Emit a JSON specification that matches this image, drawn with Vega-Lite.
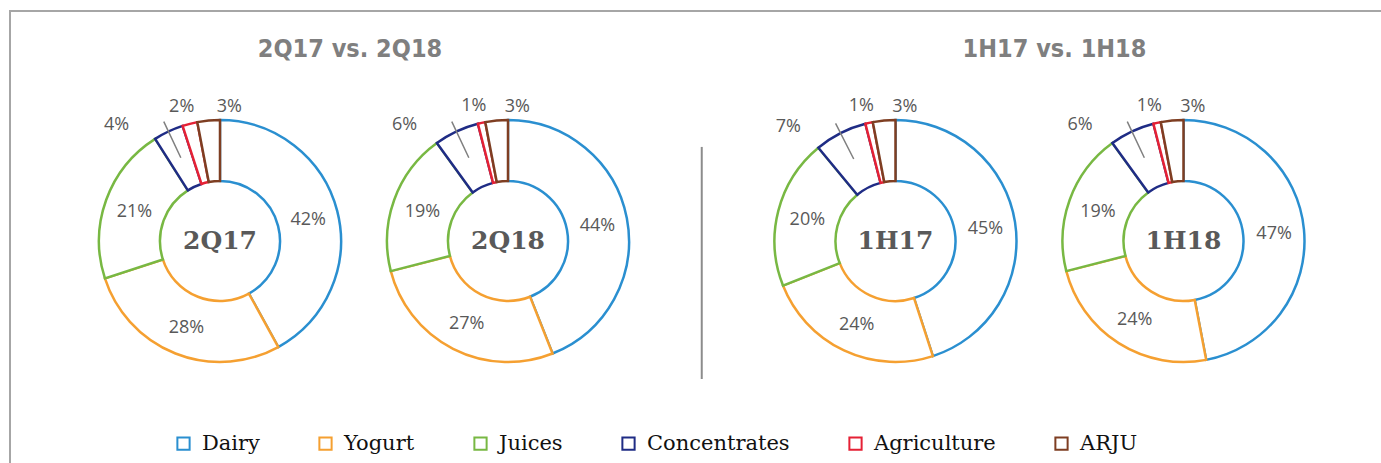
{
  "$schema": "https://vega.github.io/schema/vega-lite/v6.json",
  "width": 1400,
  "height": 460,
  "autosize": {"type": "none"},
  "padding": {"left": 10, "top": 11, "right": 0, "bottom": 0},
  "background": "white",
  "config": {"view": {"stroke": "#a6a6a6", "strokeWidth": 2}},
  "datasets": {
    "shares": [
      {"period": "2Q", "year": "17", "chart": "2Q17", "category": "Dairy", "share": 0.42},
      {"period": "2Q", "year": "17", "chart": "2Q17", "category": "Yogurt", "share": 0.28},
      {"period": "2Q", "year": "17", "chart": "2Q17", "category": "Juices", "share": 0.21},
      {"period": "2Q", "year": "17", "chart": "2Q17", "category": "Concentrates", "share": 0.04},
      {"period": "2Q", "year": "17", "chart": "2Q17", "category": "Agriculture", "share": 0.02},
      {"period": "2Q", "year": "17", "chart": "2Q17", "category": "ARJU", "share": 0.03},
      {"period": "2Q", "year": "18", "chart": "2Q18", "category": "Dairy", "share": 0.44},
      {"period": "2Q", "year": "18", "chart": "2Q18", "category": "Yogurt", "share": 0.27},
      {"period": "2Q", "year": "18", "chart": "2Q18", "category": "Juices", "share": 0.19},
      {"period": "2Q", "year": "18", "chart": "2Q18", "category": "Concentrates", "share": 0.06},
      {"period": "2Q", "year": "18", "chart": "2Q18", "category": "Agriculture", "share": 0.01},
      {"period": "2Q", "year": "18", "chart": "2Q18", "category": "ARJU", "share": 0.03},
      {"period": "1H", "year": "17", "chart": "1H17", "category": "Dairy", "share": 0.45},
      {"period": "1H", "year": "17", "chart": "1H17", "category": "Yogurt", "share": 0.24},
      {"period": "1H", "year": "17", "chart": "1H17", "category": "Juices", "share": 0.20},
      {"period": "1H", "year": "17", "chart": "1H17", "category": "Concentrates", "share": 0.07},
      {"period": "1H", "year": "17", "chart": "1H17", "category": "Agriculture", "share": 0.01},
      {"period": "1H", "year": "17", "chart": "1H17", "category": "ARJU", "share": 0.03},
      {"period": "1H", "year": "18", "chart": "1H18", "category": "Dairy", "share": 0.47},
      {"period": "1H", "year": "18", "chart": "1H18", "category": "Yogurt", "share": 0.24},
      {"period": "1H", "year": "18", "chart": "1H18", "category": "Juices", "share": 0.19},
      {"period": "1H", "year": "18", "chart": "1H18", "category": "Concentrates", "share": 0.06},
      {"period": "1H", "year": "18", "chart": "1H18", "category": "Agriculture", "share": 0.01},
      {"period": "1H", "year": "18", "chart": "1H18", "category": "ARJU", "share": 0.03}
    ],
    "charts": [
      {"period": "2Q", "year": "17", "chart": "2Q17"},
      {"period": "2Q", "year": "18", "chart": "2Q18"},
      {"period": "1H", "year": "17", "chart": "1H17"},
      {"period": "1H", "year": "18", "chart": "1H18"}
    ],
    "titles": [
      {"period": "2Q", "title": "2Q17 vs. 2Q18"},
      {"period": "1H", "title": "1H17 vs. 1H18"}
    ]
  },
  "layer": [
    {
      "data": {"name": "shares"},
      "transform": [
        {"stack": "share", "groupby": ["chart"], "offset": "normalize", "as": ["s0", "s1"]}
      ],
      "mark": {"type": "arc", "outerRadius": 121, "innerRadius": 60, "fill": "white", "strokeWidth": 2.5, "strokeJoin": "miter"},
      "encoding": {
        "x": {"field": "period", "type": "nominal", "axis": null,
              "scale": {"type": "band", "domain": ["2Q", "1H"], "paddingInner": 0, "paddingOuter": 0.03627, "align": 0.3316}},
        "xOffset": {"field": "year", "type": "nominal",
              "scale": {"type": "band", "domain": ["17", "18"], "paddingInner": 0, "paddingOuter": 0.17274, "align": 0.5}},
        "theta": {"field": "s0", "type": "quantitative", "scale": {"domain": [0, 1]}},
        "theta2": {"field": "s1"},
        "stroke": {"field": "category", "type": "nominal",
              "scale": {"domain": ["Dairy", "Yogurt", "Juices", "Concentrates", "Agriculture", "ARJU"],
                        "range": ["#2A8FD0", "#F5A031", "#78B843", "#1F2C85", "#E52135", "#7E3E22"]},
              "legend": {"orient": "none", "legendX": 163, "legendY": 422, "direction": "horizontal", "title": null,
                         "symbolType": "square", "symbolSize": 150, "symbolFillColor": "white", "symbolStrokeWidth": 2,
                         "labelFont": "DejaVu Serif", "labelFontSize": 21, "labelColor": "#111111", "labelOffset": 8,
                         "columnPadding": 55, "labelLimit": 300}}
      }
    },
    {
      "data": {"name": "shares"},
      "transform": [
        {"stack": "share", "groupby": ["chart"], "offset": "normalize", "as": ["s0", "s1"]},
        {"calculate": "(datum.s0 + datum.s1) / 2", "as": "mid"},
        {"filter": "datum.category == 'Concentrates'"}
      ],
      "mark": {"type": "arc", "outerRadius": 132, "innerRadius": 92, "fill": null, "stroke": "#808080", "strokeWidth": 1.5},
      "encoding": {
        "x": {"field": "period", "type": "nominal"},
        "xOffset": {"field": "year", "type": "nominal"},
        "theta": {"field": "mid", "type": "quantitative"},
        "theta2": {"field": "mid"}
      }
    },
    {
      "data": {"name": "shares"},
      "transform": [
        {"stack": "share", "groupby": ["chart"], "offset": "normalize", "as": ["s0", "s1"]},
        {"calculate": "(datum.s0 + datum.s1) / 2", "as": "mid"},
        {"filter": "datum.share >= 0.1"}
      ],
      "mark": {"type": "text", "radius": 91, "dy": 2, "font": "Open Sans", "fontSize": 18, "color": "#595959"},
      "encoding": {
        "x": {"field": "period", "type": "nominal"},
        "xOffset": {"field": "year", "type": "nominal"},
        "theta": {"field": "mid", "type": "quantitative"},
        "text": {"field": "share", "type": "quantitative", "format": ".0%"}
      }
    },
    {
      "data": {"name": "shares"},
      "transform": [
        {"stack": "share", "groupby": ["chart"], "offset": "normalize", "as": ["s0", "s1"]},
        {"calculate": "(datum.s0 + datum.s1) / 2", "as": "mid"},
        {"filter": "datum.category == 'Concentrates'"}
      ],
      "mark": {"type": "text", "radius": 135, "dx": -46, "dy": 6, "font": "Open Sans", "fontSize": 18, "color": "#595959"},
      "encoding": {
        "x": {"field": "period", "type": "nominal"},
        "xOffset": {"field": "year", "type": "nominal"},
        "theta": {"field": "mid", "type": "quantitative"},
        "text": {"field": "share", "type": "quantitative", "format": ".0%"}
      }
    },
    {
      "data": {"name": "shares"},
      "transform": [
        {"stack": "share", "groupby": ["chart"], "offset": "normalize", "as": ["s0", "s1"]},
        {"calculate": "(datum.s0 + datum.s1) / 2", "as": "mid"},
        {"filter": "datum.category == 'Agriculture'"}
      ],
      "mark": {"type": "text", "radius": 138, "dx": -4, "font": "Open Sans", "fontSize": 18, "color": "#595959"},
      "encoding": {
        "x": {"field": "period", "type": "nominal"},
        "xOffset": {"field": "year", "type": "nominal"},
        "theta": {"field": "mid", "type": "quantitative"},
        "text": {"field": "share", "type": "quantitative", "format": ".0%"}
      }
    },
    {
      "data": {"name": "shares"},
      "transform": [
        {"stack": "share", "groupby": ["chart"], "offset": "normalize", "as": ["s0", "s1"]},
        {"calculate": "(datum.s0 + datum.s1) / 2", "as": "mid"},
        {"filter": "datum.category == 'ARJU'"}
      ],
      "mark": {"type": "text", "radius": 135, "dx": 22, "font": "Open Sans", "fontSize": 18, "color": "#595959"},
      "encoding": {
        "x": {"field": "period", "type": "nominal"},
        "xOffset": {"field": "year", "type": "nominal"},
        "theta": {"field": "mid", "type": "quantitative"},
        "text": {"field": "share", "type": "quantitative", "format": ".0%"}
      }
    },
    {
      "data": {"name": "charts"},
      "mark": {"type": "text", "font": "DejaVu Serif", "fontWeight": "bold", "fontSize": 25, "color": "#595959", "baseline": "middle"},
      "encoding": {
        "x": {"field": "period", "type": "nominal"},
        "xOffset": {"field": "year", "type": "nominal"},
        "text": {"field": "chart", "type": "nominal"}
      }
    },
    {
      "data": {"name": "titles"},
      "transform": [{"filter": "datum.period == '2Q'"}],
      "mark": {"type": "text", "dx": -14, "font": "DejaVu Sans Condensed, Roboto, sans-serif", "fontWeight": "bold", "fontSize": 25, "color": "#7f7f7f", "baseline": "middle"},
      "encoding": {
        "x": {"field": "period", "type": "nominal"},
        "y": {"datum": 0.835, "type": "quantitative", "axis": null, "scale": {"domain": [-1, 1], "nice": false, "zero": false}},
        "text": {"field": "title", "type": "nominal"}
      }
    },
    {
      "data": {"name": "titles"},
      "transform": [{"filter": "datum.period == '1H'"}],
      "mark": {"type": "text", "dx": 15, "font": "DejaVu Sans Condensed, Roboto, sans-serif", "fontWeight": "bold", "fontSize": 25, "color": "#7f7f7f", "baseline": "middle"},
      "encoding": {
        "x": {"field": "period", "type": "nominal"},
        "y": {"datum": 0.835, "type": "quantitative"},
        "text": {"field": "title", "type": "nominal"}
      }
    },
    {
      "data": {"values": [{"k": 1}]},
      "mark": {"type": "rule", "color": "#8c8c8c", "strokeWidth": 2},
      "encoding": {
        "x": {"datum": "1H", "type": "nominal", "bandPosition": 0},
        "y": {"datum": 0.409, "type": "quantitative"},
        "y2": {"datum": -0.6}
      }
    }
  ]
}
